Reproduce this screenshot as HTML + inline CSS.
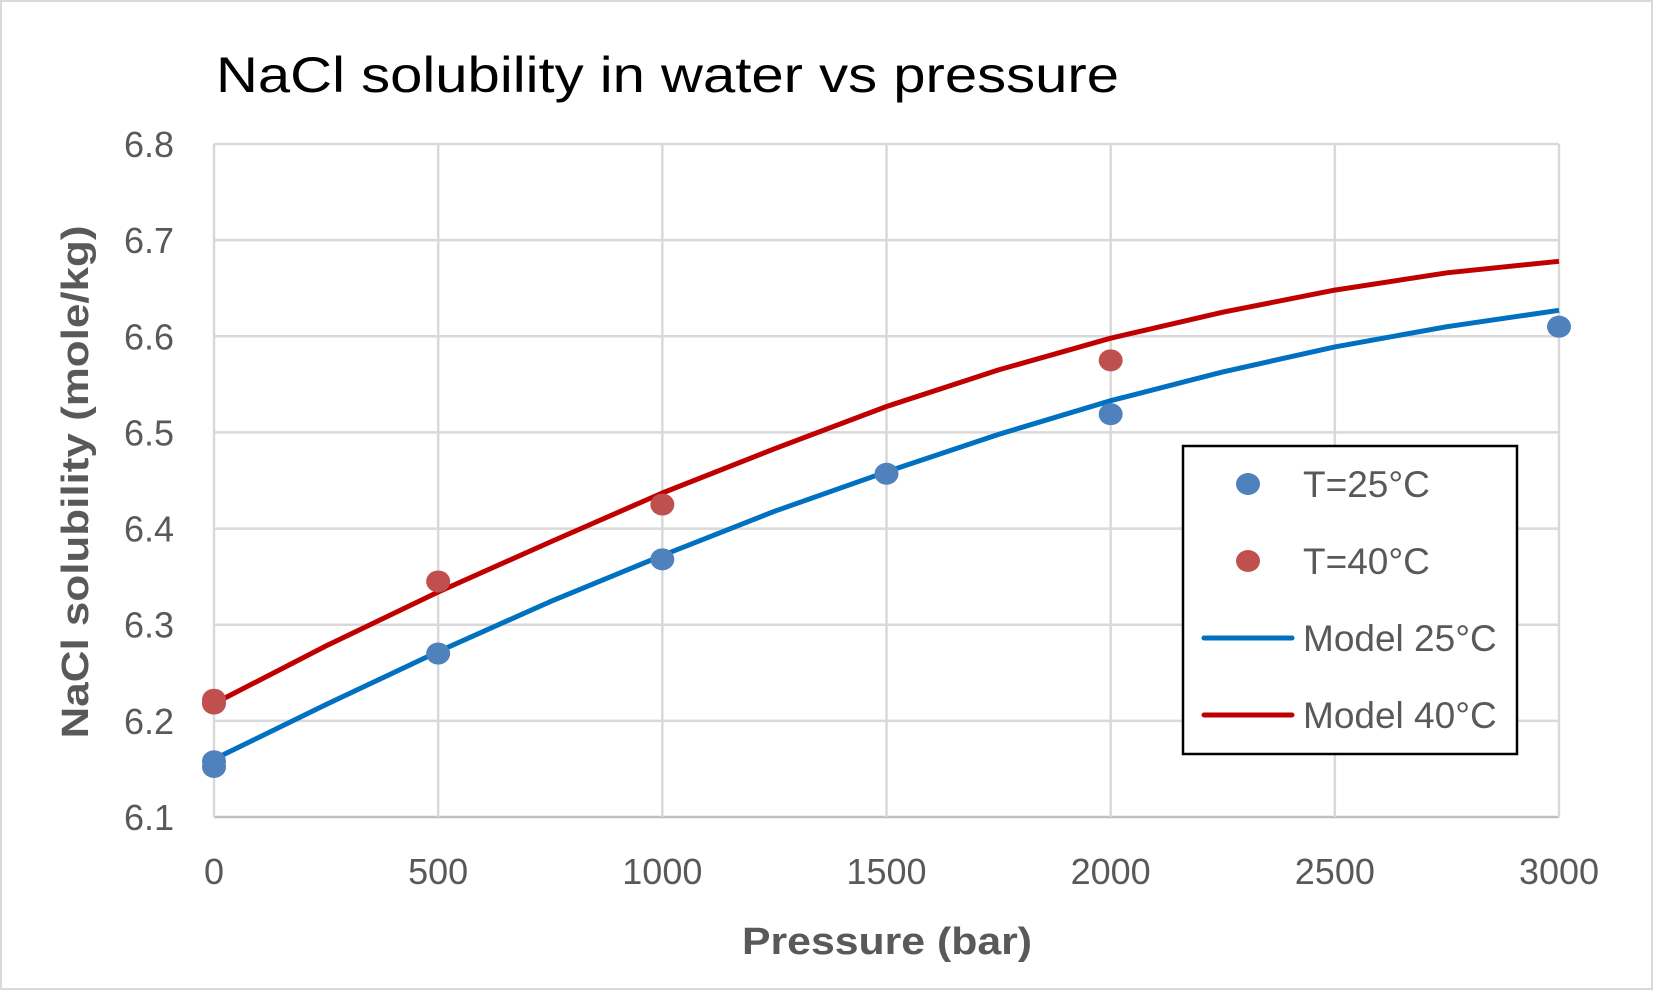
<!DOCTYPE html>
<html><head><meta charset="utf-8"><style>
html,body{margin:0;padding:0;background:#fff}
svg{display:block}
text{font-family:"Liberation Sans",sans-serif}
</style></head><body>
<svg id="chart" width="1653" height="990" viewBox="0 0 1653 990">
<rect x="1" y="1" width="1651" height="988" fill="#fff" stroke="#d9d9d9" stroke-width="2"/>
<text x="216" y="92" font-size="50" fill="#000" textLength="903" lengthAdjust="spacingAndGlyphs">NaCl solubility in water vs pressure</text>
<g id="grid"></g>
<g id="yticks"></g>
<g id="xticks"></g>
<g id="series"></g>
<text x="887" y="954" font-size="38" font-weight="bold" fill="#595959" text-anchor="middle" textLength="290" lengthAdjust="spacingAndGlyphs">Pressure (bar)</text>
<text transform="translate(88,482) rotate(-90)" font-size="38" font-weight="bold" fill="#595959" text-anchor="middle" textLength="513" lengthAdjust="spacingAndGlyphs">NaCl solubility (mole/kg)</text>
<g>
<rect x="1183" y="446" width="334" height="308" fill="#fff" stroke="#000" stroke-width="2.5"/>
<g><ellipse cx="1248" cy="484" rx="12" ry="11" fill="#4f81bd"/><text x="1303" y="497" font-size="37" fill="#595959">T=25°C</text></g>
<g><ellipse cx="1248" cy="561" rx="12" ry="11" fill="#c0504d"/><text x="1303" y="574" font-size="37" fill="#595959">T=40°C</text></g>
<g><line x1="1204" y1="638" x2="1292" y2="638" stroke="#0070c0" stroke-width="5" stroke-linecap="round"/><text x="1303" y="651" font-size="37" fill="#595959">Model 25°C</text></g>
<g><line x1="1204" y1="715" x2="1292" y2="715" stroke="#c00000" stroke-width="5" stroke-linecap="round"/><text x="1303" y="728" font-size="37" fill="#595959">Model 40°C</text></g>
</g>
</svg>
<script>
const xTicks=[0,500,1000,1500,2000,2500,3000];
const yTicks=[6.1,6.2,6.3,6.4,6.5,6.6,6.7,6.8];
const t25X=[0,0,500,1000,1500,2000,3000];
const t25Y=[6.152,6.158,6.27,6.368,6.457,6.519,6.61];
const t40X=[0,0,500,1000,2000];
const t40Y=[6.222,6.218,6.345,6.425,6.575];
const modelX=[0,250,500,750,1000,1250,1500,1750,2000,2250,2500,2750,3000];
const model25Y=[6.16,6.217,6.272,6.324,6.372,6.418,6.459,6.498,6.533,6.563,6.589,6.61,6.627];
const model40Y=[6.218,6.278,6.334,6.386,6.437,6.483,6.527,6.565,6.598,6.625,6.648,6.666,6.678];

const L=214,R=1559,T=144,B=817;
const xs=v=>L+(v-0)/3000*(R-L);
const ys=v=>B-(v-6.1)/0.7*(B-T);
const NS="http://www.w3.org/2000/svg";
function mk(tag,attrs,parent){const e=document.createElementNS(NS,tag);for(const k in attrs)e.setAttribute(k,attrs[k]);parent.appendChild(e);return e;}
const grid=document.getElementById('grid'),yt=document.getElementById('yticks'),xt=document.getElementById('xticks'),ser=document.getElementById('series');
yTicks.forEach(v=>{
  const l=mk('line',{x1:L,x2:R,y1:ys(v),y2:ys(v),stroke:v===6.1?'#bfbfbf':'#d9d9d9','stroke-width':2.5},grid);
  
  
  const t=mk('text',{x:174,y:ys(v)+13,'font-size':36,fill:'#595959','text-anchor':'end'},yt);
  t.textContent=v.toFixed(1);
  
  
});
xTicks.forEach(v=>{
  const l=mk('line',{x1:xs(v),x2:xs(v),y1:T,y2:B,stroke:'#d9d9d9','stroke-width':2.5},grid);
  
  
  const t=mk('text',{x:xs(v),y:884,'font-size':36,fill:'#595959','text-anchor':'middle'},xt);
  t.textContent=String(v);
  
  
});
function line(xa,ya,color,name){
  const d=xa.map((x,i)=>(i?'L':'M')+xs(x).toFixed(1)+' '+ys(ya[i]).toFixed(1)).join(' ');
  const p=mk('path',{d:d,fill:'none',stroke:color,'stroke-width':5,'stroke-linejoin':'round'},ser);
  
  
}
function pts(xa,ya,color,name){
  xa.forEach((x,i)=>{
    const c=mk('ellipse',{cx:xs(x),cy:ys(ya[i]),rx:12,ry:11,fill:color},ser);
    
    
  });
}
line(modelX,model40Y,'#c00000','model-40-line');
line(modelX,model25Y,'#0070c0','model-25-line');
pts(t40X,t40Y,'#c0504d','t40-point');
pts(t25X,t25Y,'#4f81bd','t25-point');
</script>
</body></html>
